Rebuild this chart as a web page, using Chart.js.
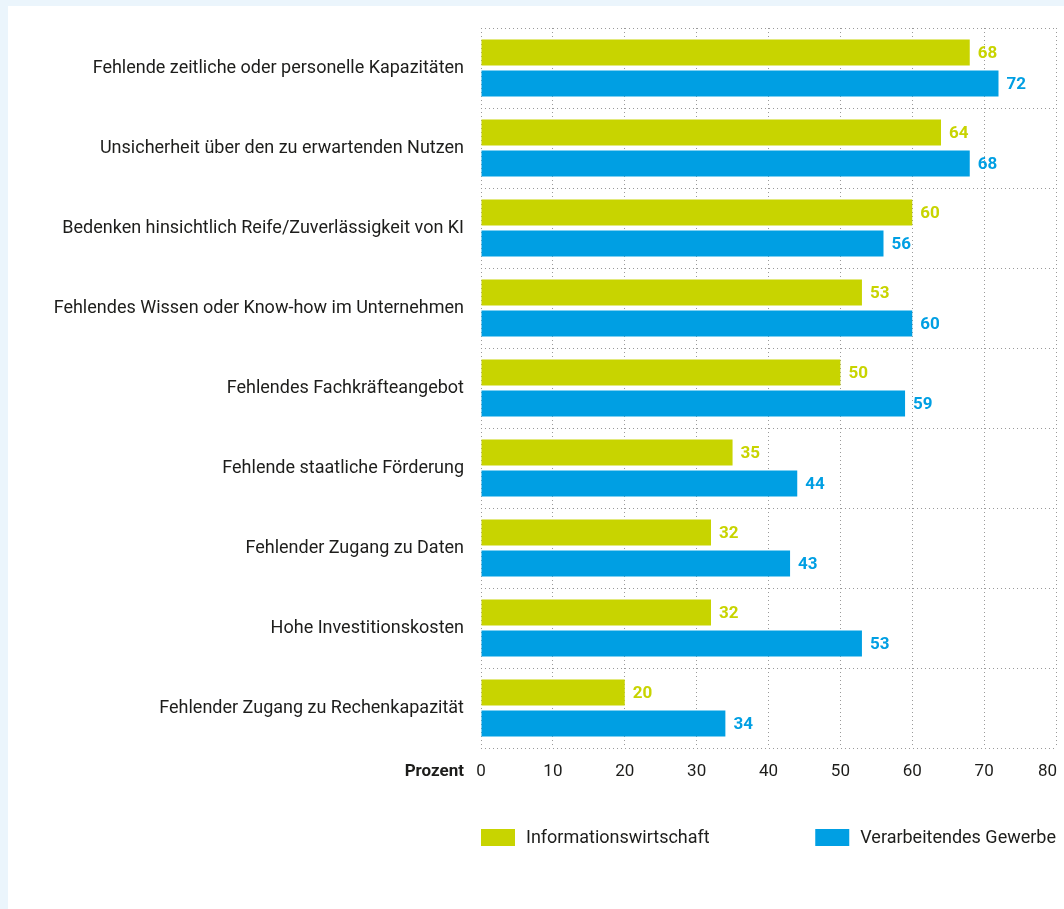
<!DOCTYPE html>
<html lang="de">
<head>
<meta charset="utf-8">
<title>Hemmnisse beim KI-Einsatz</title>
<script src="https://cdn.jsdelivr.net/npm/chart.js@4/dist/chart.umd.min.js"></script>
<style>
    html, body {
        margin: 0;
        padding: 0;
        background: #ebf5fc;
    }
    #wrap {
        position: absolute;
        left: 8px;
        top: 6px;
        width: 1056px;
        height: 903px;
        background: #ffffff;
    }
</style>
</head>
<body>
<div id="wrap"><canvas id="barChart"></canvas></div>
<script>
const categories = [
    'Fehlende zeitliche oder personelle Kapazitäten',
    'Unsicherheit über den zu erwartenden Nutzen',
    'Bedenken hinsichtlich Reife/Zuverlässigkeit von KI',
    'Fehlendes Wissen oder Know-how im Unternehmen',
    'Fehlendes Fachkräfteangebot',
    'Fehlende staatliche Förderung',
    'Fehlender Zugang zu Daten',
    'Hohe Investitionskosten',
    'Fehlender Zugang zu Rechenkapazität'
];
const infoWirtschaft = [68, 64, 60, 53, 50, 35, 32, 32, 20];
const verarbGewerbe = [72, 68, 56, 60, 59, 44, 43, 53, 34];
const seriesNames = ['Informationswirtschaft', 'Verarbeitendes Gewerbe'];
const xTicks = [0, 10, 20, 30, 40, 50, 60, 70, 80];

const green = '#c8d400';
const blue = '#009fe3';
const textColor = '#1d1d1b';
const fontFamily = 'Roboto, "DejaVu Sans Condensed", sans-serif';

// value labels right of each bar, in the bar's colour
const valueLabels = {
    id: 'valueLabels',
    afterDatasetsDraw(chart) {
        const ctx = chart.ctx;
        ctx.save();
        ctx.font = 'bold 17px ' + fontFamily;
        ctx.textBaseline = 'middle';
        ctx.textAlign = 'left';
        chart.data.datasets.forEach((ds, i) => {
            const meta = chart.getDatasetMeta(i);
            ctx.fillStyle = ds.backgroundColor;
            meta.data.forEach((bar, j) => {
                ctx.fillText(ds.data[j], bar.x + 8, bar.y + 1);
            });
        });
        ctx.restore();
    }
};

// "Prozent" in front of the x tick labels, the last tick label kept inside
// the canvas, plus the legend underneath
const axisAndLegend = {
    id: 'axisAndLegend',
    afterDraw(chart) {
        const ctx = chart.ctx;
        const area = chart.chartArea;
        const xScale = chart.scales.x;
        const labelY = area.bottom + 24;
        ctx.save();
        ctx.fillStyle = textColor;
        ctx.font = 'bold 17px ' + fontFamily;
        ctx.textAlign = 'right';
        ctx.textBaseline = 'middle';
        ctx.fillText('Prozent', area.left - 17, labelY);

        const lastTick = xTicks[xTicks.length - 1];
        ctx.font = '17px ' + fontFamily;
        ctx.fillText(String(lastTick), xScale.getPixelForValue(lastTick) + 1, labelY);

        const y = area.bottom + 89;
        ctx.font = '18px ' + fontFamily;
        ctx.textAlign = 'left';
        const ds = chart.data.datasets;
        // first item starts at the left plot edge
        ctx.fillStyle = ds[0].backgroundColor;
        ctx.fillRect(area.left, y - 8, 34, 17);
        ctx.fillStyle = textColor;
        ctx.fillText(ds[0].label, area.left + 45, y + 1);
        // second item ends at the right plot edge
        const w = ctx.measureText(ds[1].label).width;
        const x2 = area.right - w - 45;
        ctx.fillStyle = ds[1].backgroundColor;
        ctx.fillRect(x2, y - 8, 34, 17);
        ctx.fillStyle = textColor;
        ctx.fillText(ds[1].label, x2 + 45, y + 1);
        ctx.restore();
    }
};

const ctx = document.getElementById('barChart').getContext('2d');
new Chart(ctx, {
    type: 'bar',
    data: {
        labels: categories,
        datasets: [{
            label: seriesNames[0],
            data: infoWirtschaft,
            backgroundColor: green,
            categoryPercentage: 0.775,
            barPercentage: 0.839
        }, {
            label: seriesNames[1],
            data: verarbGewerbe,
            backgroundColor: blue,
            categoryPercentage: 0.775,
            barPercentage: 0.839
        }]
    },
    options: {
        indexAxis: 'y',
        responsive: true,
        maintainAspectRatio: false,
        animation: false,
        layout: {
            padding: { top: 22, right: 8, bottom: 0, left: 0 }
        },
        scales: {
            x: {
                min: 0,
                max: 80,
                afterBuildTicks: (scale) => {
                    scale.ticks = xTicks.map(v => ({ value: v }));
                },
                afterFit: (scale) => {
                    scale.height = 161;
                    scale.paddingLeft = 0;
                    scale.paddingRight = 0;
                },
                grid: {
                    color: '#9a9a9a',
                    lineWidth: 1,
                    drawTicks: false
                },
                border: { display: false, dash: [1, 3] },
                ticks: {
                    color: textColor,
                    padding: 14,
                    maxRotation: 0,
                    font: { family: fontFamily, size: 17 },
                    // the last one is drawn right-aligned by the plugin
                    callback: (value) => value === xTicks[xTicks.length - 1] ? '' : value
                }
            },
            y: {
                afterFit: (scale) => {
                    scale.width = 473;
                    scale.paddingTop = 0;
                    scale.paddingBottom = 0;
                },
                grid: {
                    offset: true,
                    color: '#9a9a9a',
                    lineWidth: 1,
                    drawTicks: false
                },
                border: { display: false, dash: [1, 3] },
                ticks: {
                    color: textColor,
                    padding: 17,
                    font: { family: fontFamily, size: 18 }
                }
            }
        },
        plugins: {
            legend: { display: false },
            tooltip: { enabled: false }
        }
    },
    plugins: [valueLabels, axisAndLegend]
});
</script>
</body>
</html>
